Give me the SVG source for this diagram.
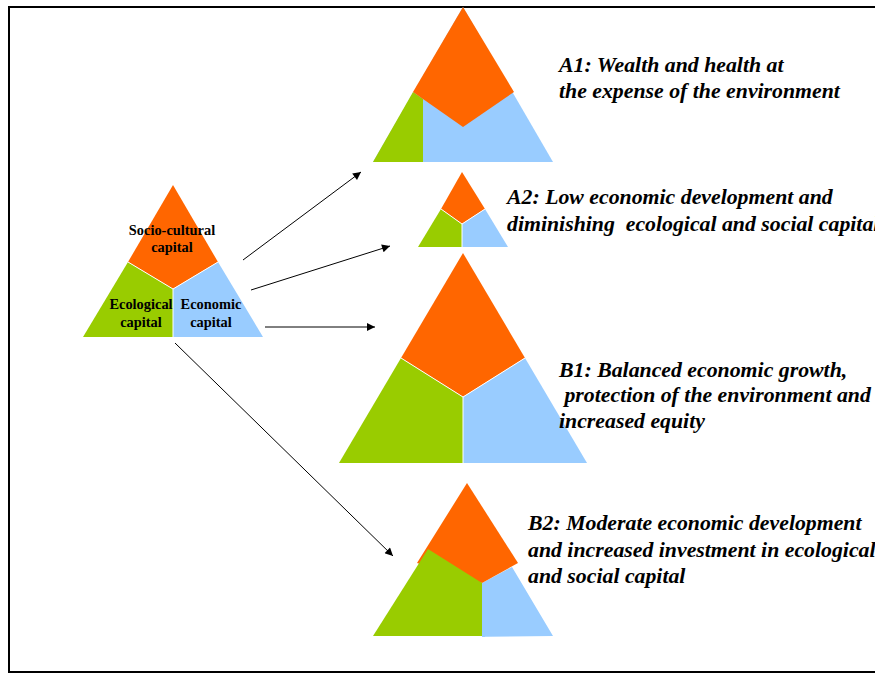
<svg xmlns="http://www.w3.org/2000/svg" width="875" height="675" viewBox="0 0 875 675">
<defs>
<style>
.o{fill:#ff6600}
.g{fill:#99cc00}
.b{fill:#99ccff}
.sep{stroke:#ffffff;stroke-width:1;fill:none}
.lbl{font-family:"Liberation Serif",serif;font-weight:bold;font-size:14.4px;fill:#000;text-anchor:middle}
.cap{font-family:"Liberation Serif",serif;font-weight:bold;font-style:italic;font-size:21.8px;fill:#000}
.arr{stroke:#000;stroke-width:1;fill:none;marker-end:url(#ah)}
</style>
<marker id="ah" viewBox="0 0 10 10" refX="10" refY="5" markerWidth="10" markerHeight="8" markerUnits="userSpaceOnUse" orient="auto">
<path d="M0,0 L10,5 L0,10 z" fill="#000"/>
</marker>
</defs>
<rect x="0" y="0" width="875" height="675" fill="#fff"/>
<rect x="9" y="7" width="880" height="665" fill="none" stroke="#000" stroke-width="2"/>

<g id="legend">
<polygon class="o" points="173,185 218,262 173,289 128,262"/>
<polygon class="g" points="128,262 173,289 173,337 83,337"/>
<polygon class="b" points="218,262 263,337 173,337 173,289"/>
<polyline class="sep" points="128,262 173,289 218,262"/>
<line class="sep" x1="173" y1="289" x2="173" y2="337"/>
<text class="lbl" x="172" y="235">Socio-cultural</text>
<text class="lbl" x="172" y="252">capital</text>
<text class="lbl" x="141" y="309">Ecological</text>
<text class="lbl" x="141" y="327">capital</text>
<text class="lbl" x="211" y="309">Economic</text>
<text class="lbl" x="211" y="327">capital</text>
</g>

<g id="A1">
<polygon class="b" points="463,7 553,162 373,162"/>
<polygon class="g" points="413,92 423,99 423,162 373,162"/>
<polygon class="o" points="463,7 514,92 463,127 413,92"/>
<text class="cap" x="559" y="72">A1: Wealth and health at</text>
<text class="cap" x="559" y="98">the expense of the environment</text>
</g>

<g id="A2">
<polygon class="o" points="462,172 485,209 462,224 441,209"/>
<polygon class="g" points="441,209 462,224 462,247 418,247"/>
<polygon class="b" points="485,209 508,247 462,247 462,224"/>
<polyline class="sep" points="441,209 462,224 485,209"/>
<line class="sep" x1="462" y1="224" x2="462" y2="247"/>
<text class="cap" x="507" y="204">A2: Low economic development and</text>
<text class="cap" x="507" y="231" xml:space="preserve">diminishing  ecological and social capital</text>
</g>

<g id="B1">
<polygon class="o" points="463,253 525,358 463,397 401,358"/>
<polygon class="g" points="401,358 463,397 463,463 339,463"/>
<polygon class="b" points="525,358 587,463 463,463 463,397"/>
<polyline class="sep" points="401,358 463,397 525,358"/>
<line class="sep" x1="463" y1="397" x2="463" y2="463"/>
<text class="cap" x="559" y="377">B1: Balanced economic growth,</text>
<text class="cap" x="559" y="402" xml:space="preserve"> protection of the environment and</text>
<text class="cap" x="559" y="428">increased equity</text>
</g>

<g id="B2">
<polygon class="b" points="482,583 512,567 553,636 462,637 482,637"/>
<polygon class="o" points="467,483 518,563 482,583 417,563"/>
<polygon class="g" points="428,549 482,583 482,636 373,636"/>
<text class="cap" x="528" y="530">B2: Moderate economic development</text>
<text class="cap" x="528" y="557">and increased investment in ecological</text>
<text class="cap" x="528" y="583">and social capital</text>
</g>

<g id="connectors">
<line class="arr" x1="243" y1="260" x2="361" y2="172"/>
<line class="arr" x1="251" y1="290" x2="390" y2="246"/>
<line class="arr" x1="265" y1="327" x2="375" y2="327"/>
<line class="arr" x1="175" y1="343" x2="393" y2="556"/>
</g>
</svg>
